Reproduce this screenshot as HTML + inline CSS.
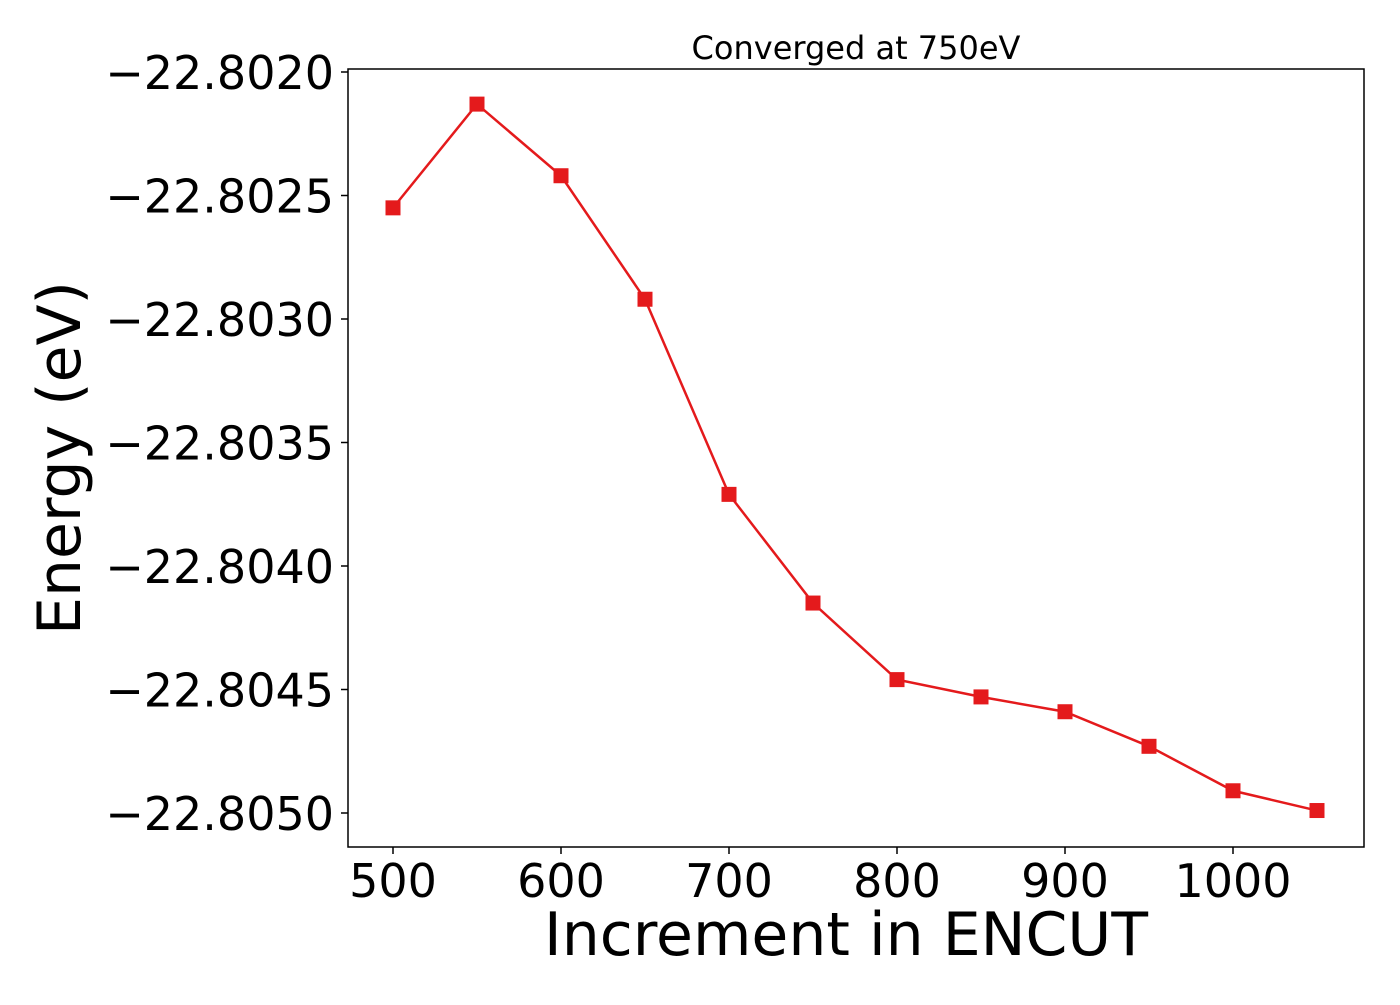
<!DOCTYPE html>
<html><head><meta charset="utf-8"><style>
html,body{margin:0;padding:0;background:#fff;}
svg text{font-family:"DejaVu Sans","Liberation Sans",sans-serif;fill:#000;}
</style></head><body>
<svg id="chart" width="1400" height="1000" xmlns="http://www.w3.org/2000/svg">
<rect width="1400" height="1000" fill="#fff"/>
<g id="plot"></g>
</svg>
<script>
const xValues = [500,550,600,650,700,750,800,850,900,950,1000,1050];
const energies = [-22.80255,-22.80213,-22.80242,-22.80292,-22.80371,-22.80415,-22.80446,-22.80453,-22.80459,-22.80473,-22.80491,-22.80499];
const xTicks = [500,600,700,800,900,1000];
const yTicks = [-22.8020,-22.8025,-22.8030,-22.8035,-22.8040,-22.8045,-22.8050];
const yTickLabels = ["\u221222.8020","\u221222.8025","\u221222.8030","\u221222.8035","\u221222.8040","\u221222.8045","\u221222.8050"];

const L=348,R=1364,T=69,B=847;
function xs(v){return 393+(v-500)*(1233-393)/500;}
function ys(v){return 72+(-22.8020-v)*(813-72)/0.0030;}
const ns="http://www.w3.org/2000/svg";
const g=document.getElementById('plot');
function mk(tag,attrs,parent){const e=document.createElementNS(ns,tag);for(const k in attrs)e.setAttribute(k,attrs[k]);(parent||g).appendChild(e);return e;}

const frame=mk('rect',{x:L,y:T,width:R-L,height:B-T,fill:'none',stroke:'#000','stroke-width':1.5});



xTicks.forEach(v=>{
  const t=mk('line',{x1:xs(v),x2:xs(v),y1:B,y2:B+7,stroke:'#000','stroke-width':1.5});
  
  
  const l=mk('text',{x:xs(v),y:B+50,'text-anchor':'middle','font-size':46});
  l.textContent=v;
  
  
});
yTicks.forEach((v,i)=>{
  const t=mk('line',{x1:L-7,x2:L,y1:ys(v),y2:ys(v),stroke:'#000','stroke-width':1.5});
  
  
  const l=mk('text',{x:L-14,y:ys(v)+17,'text-anchor':'end','font-size':46});
  l.textContent=yTickLabels[i];
  
  
});

const pts=xValues.map((x,i)=>xs(x)+','+ys(energies[i])).join(' ');
const line=mk('polyline',{points:pts,fill:'none',stroke:'#e41a1c','stroke-width':2.5});


xValues.forEach((x,i)=>{
  const m=mk('rect',{x:xs(x)-7.5,y:ys(energies[i])-7.5,width:15,height:15,fill:'#e41a1c'});
  
  
});

const title=mk('text',{x:856,y:59,'text-anchor':'middle','font-size':32});
title.textContent='Converged at 750eV';


const xl=mk('text',{x:846,y:955,'text-anchor':'middle','font-size':60});
xl.textContent='Increment in ENCUT';


const yl=mk('text',{x:0,y:0,'text-anchor':'middle','font-size':60,transform:'translate(80,458) rotate(-90)'});
yl.textContent='Energy (eV)';


</script>
</body></html>
